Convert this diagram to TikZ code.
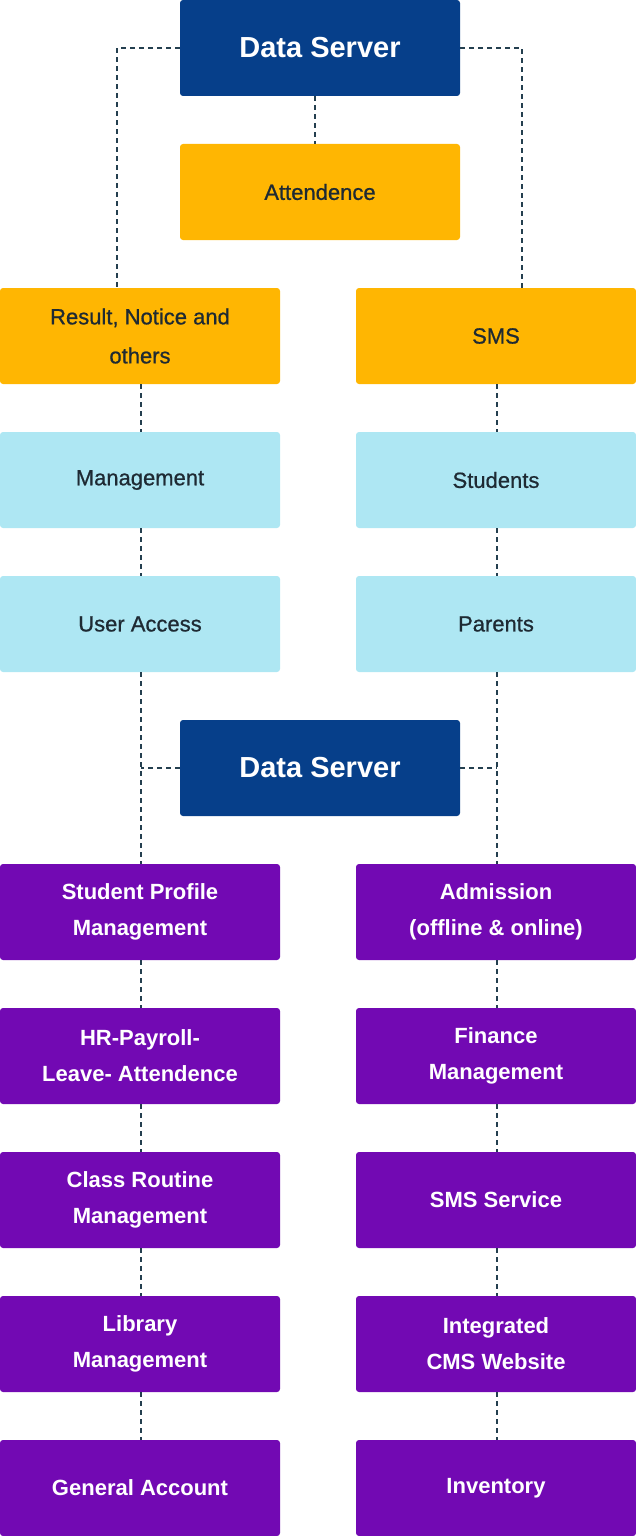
\documentclass[tikz,border=0pt]{standalone}
\usepackage{fontspec}
\setmainfont{Liberation Sans}
\newfontfamily\medfont[FakeBold=0.8]{Liberation Sans}
\definecolor{dsblue}{HTML}{063F8A}
\definecolor{amber}{HTML}{FFB602}
\definecolor{lblue}{HTML}{AEE7F3}
\definecolor{purp}{HTML}{7209B3}
\definecolor{dtext}{HTML}{1E2A33}
\definecolor{dash}{HTML}{243F4F}
\begin{document}
\begin{tikzpicture}[x=1pt,y=-1pt,
  box/.style={rectangle,rounded corners=3pt,minimum width=280pt,minimum height=96pt,inner sep=0pt,align=center},
  server/.style={box,fill=dsblue,text=white,font=\fontsize{29}{34}\selectfont\bfseries},
  ambox/.style={box,fill=amber,text=dtext,font=\fontsize{22}{39}\selectfont\medfont},
  lbbox/.style={box,fill=lblue,text=dtext,font=\fontsize{22}{36}\selectfont\medfont},
  pubox/.style={box,fill=purp,text=white,font=\fontsize{22}{36}\selectfont\bfseries},
  conn/.style={draw=dash,line width=1.7pt,dash pattern=on 5pt off 4pt}]
\useasboundingbox (0,0) rectangle (636,1536);
% top
\node[server] (ds1) at (320,48) {Data Server};
\node[ambox] (att) at (320,192) {Attendence};
\node[ambox] (res) at (140,336) {Result, Notice and\\others};
\node[ambox] (sms) at (496,336) {SMS};
\node[lbbox] (mgmt) at (140,480) {Management};
\node[lbbox] (stu) at (496,480) {Students};
\node[lbbox] (ua) at (140,624) {User Access};
\node[lbbox] (par) at (496,624) {Parents};
\node[server] (ds2) at (320,768) {Data Server};
% bottom
\node[pubox] (spm) at (140,912) {Student Profile\\Management};
\node[pubox] (adm) at (496,912) {Admission\\(offline \& online)};
\node[pubox] (hr) at (140,1056) {HR-Payroll-\\Leave- Attendence};
\node[pubox] (fin) at (496,1056) {Finance\\Management};
\node[pubox] (crm) at (140,1200) {Class Routine\\Management};
\node[pubox] (smss) at (496,1200) {SMS Service};
\node[pubox] (lib) at (140,1344) {Library\\Management};
\node[pubox] (cms) at (496,1344) {Integrated\\CMS Website};
\node[pubox] (gen) at (140,1488) {General Account};
\node[pubox] (inv) at (496,1488) {Inventory};
% connectors
\coordinate (xl) at (117,0);
\coordinate (xr) at (522,0);
\coordinate (xc) at (315,0);
\coordinate (xlc) at (141,0);
\coordinate (xrc) at (497,0);
\draw[conn] (ds1.west) -| (xl |- res.north);
\draw[conn] (ds1.east) -| (xr |- sms.north);
\draw[conn] (xc |- ds1.south) -- (xc |- att.north);
\draw[conn] (xlc |- res.south) -- (xlc |- mgmt.north);
\draw[conn] (xlc |- mgmt.south) -- (xlc |- ua.north);
\draw[conn] (xrc |- sms.south) -- (xrc |- stu.north);
\draw[conn] (xrc |- stu.south) -- (xrc |- par.north);
\draw[conn] (xlc |- ua.south) -- (xlc |- spm.north);
\draw[conn] (xrc |- par.south) -- (xrc |- adm.north);
\draw[conn] (ds2.west) -- (ds2.west -| xlc);
\draw[conn] (ds2.east) -- (ds2.east -| xrc);
\draw[conn] (xlc |- spm.south) -- (xlc |- hr.north);
\draw[conn] (xlc |- hr.south) -- (xlc |- crm.north);
\draw[conn] (xlc |- crm.south) -- (xlc |- lib.north);
\draw[conn] (xlc |- lib.south) -- (xlc |- gen.north);
\draw[conn] (xrc |- adm.south) -- (xrc |- fin.north);
\draw[conn] (xrc |- fin.south) -- (xrc |- smss.north);
\draw[conn] (xrc |- smss.south) -- (xrc |- cms.north);
\draw[conn] (xrc |- cms.south) -- (xrc |- inv.north);
\end{tikzpicture}
\end{document}
